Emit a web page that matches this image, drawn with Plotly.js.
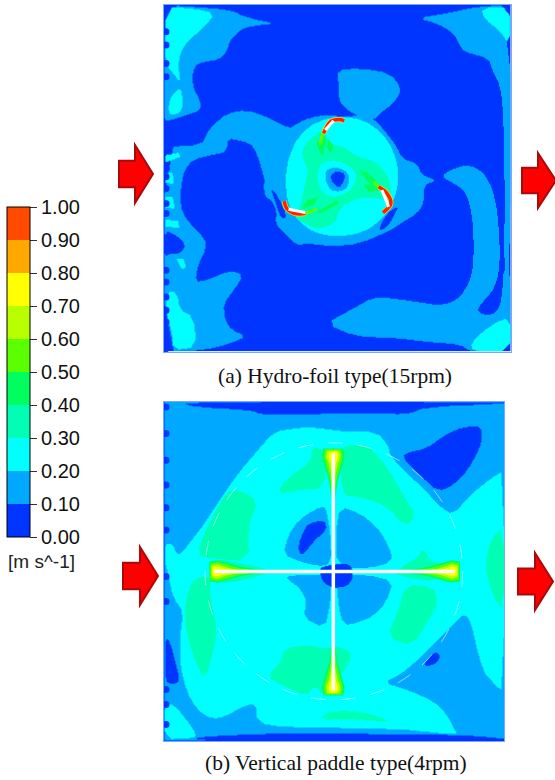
<!DOCTYPE html>
<html><head><meta charset="utf-8">
<script src="https://cdn.plot.ly/plotly-3.0.1.min.js"></script>
<style>html,body{margin:0;padding:0;background:#fff}</style></head>
<body><div id="chart" style="width:555px;height:780px"></div>
<script>
// Iso-band outlines, in panel units. Each entry: [band, [x,y, x,y, ...]]; band d = 0.1*d .. 0.1*d+0.1 m/s.
// Later entries lie on top of earlier ones; anything uncovered is band 0.
const outlinesA = [
[1,[12,15,165,25,225,35,240,45,290,60,345,70,275,78,240,90,210,120,200,155,175,180,130,185,100,200,97,260,120,300,122,330,80,345,25,363,12,360]],
[1,[770,55,860,40,950,20,1050,15,1050,810,1030,810,1033,600,1030,420,1028,340,1020,260,995,210,985,175,910,155,895,130,880,100,830,70]],
[1,[840,528,880,505,915,495,955,505,985,540,1005,600,1015,680,1018,760,1015,820,1000,865,985,885,950,925,960,940,985,945,1010,935,1024,895,1030,800,1050,800,1050,1055,930,1055,900,1032,800,1025,700,1012,590,1010,495,970,570,930,640,890,700,895,770,905,835,915,880,905,915,870,935,820,940,760,938,680,930,620,915,575,890,555]],
[1,[12,440,125,435,140,400,160,375,200,340,260,330,320,350,385,385,405,375,430,360,480,345,560,350,600,345,640,355,680,400,710,440,725,475,770,490,785,525,830,540,790,555,790,610,770,640,720,670,690,690,600,730,520,738,440,730,410,735,375,700,345,670,350,635,335,600,315,590,310,555,315,545,300,490,285,450,270,430,235,420,205,415,200,445,190,458,150,465,100,478,75,505,62,560,62,620,80,660,135,715,138,745,115,790,105,845,140,840,210,810,250,825,225,865,190,910,195,960,215,990,260,1008,210,1030,130,1050,12,1055]],
[1,[530,210,600,205,690,220,725,268,700,310,665,335,640,360,600,350,560,330,535,300,535,250]],
[0,[12,690,50,705,78,735,60,760,30,760,12,770]],
[0,[330,560,355,590,380,648,365,658,350,620]],
[2,[15,22,100,25,165,40,130,85,85,120,60,160,55,200,62,250,40,220,15,190]],
[2,[62,262,68,300,65,335,30,348,25,320,35,285]],
[2,[960,25,1050,20,1048,135,1015,90,975,60]],
[2,[15,466,55,458,62,470,15,487]],
[2,[15,520,38,518,42,550,15,548]],
[2,[15,590,38,590,45,625,15,622]],
[2,[15,658,55,663,58,682,15,680]],
[2,[50,775,70,775,78,802,65,807]],
[2,[20,875,50,875,60,930,100,950,110,1040,40,1050,35,990,20,950]],
[2,[930,1028,990,975,1050,948,1050,1055,940,1055]],
[2,[545,348,610,360,665,398,702,455,717,528,702,600,665,657,610,697,530,710,460,697,415,662,383,612,375,540,385,470,415,408,470,363]],
[3,[425,450,445,420,480,395,495,400,510,430,550,440,590,470,640,480,680,520,695,570,680,600,640,590,590,595,540,620,525,670,470,688,415,660,400,640,420,620,430,570,445,510,430,480]],
[2,[480,490,510,480,560,490,590,520,580,560,550,585,510,590,480,570,470,530]],
[1,[495,510,525,500,565,515,565,560,540,575,510,570,495,540]],
[0,[510,525,530,512,555,520,550,545,535,565,515,545]],
[4,[470,430,490,405,500,420,485,470]],
[4,[505,415,520,440,510,460,500,440]],
[4,[595,505,625,520,655,550,640,560,610,530]],
[4,[610,555,650,555,660,570,625,575]],
[4,[440,600,475,590,460,615,425,625]],
[4,[470,635,530,600,535,610,480,640]],
[0,[715,615,700,650,680,680,658,692,660,675,680,640]]
];
const outlinesB = [
[1,[12,10,1032,10,1032,1030,12,1030]],
[0,[60,10,1032,10,1032,15,800,25,740,48,640,42,400,48,300,48,280,35,100,25]],
[0,[100,1030,1032,1030,1032,1022,900,1012,700,1010,400,1006,120,1016]],
[0,[730,165,800,150,840,120,880,95,950,78,968,100,960,150,920,220,880,260,835,280,790,240,750,200,735,185]],
[0,[15,720,30,730,45,790,60,850,35,860,15,850]],
[2,[65,465,100,420,130,380,170,320,230,230,290,160,340,100,400,90,450,85,560,100,650,100,685,140,690,170,730,215,790,270,840,325,880,350,930,290,1000,235,1032,218,1032,885,1000,855,970,820,950,750,935,680,915,645,880,680,830,730,770,790,720,830,670,855,740,875,820,910,860,950,880,990,895,1012,700,992,380,990,290,975,290,915,240,930,200,955,155,965,110,935,80,880,60,800,60,720,70,640,40,600,25,530,15,490,15,435,40,440,50,470]],
[2,[12,920,40,920,75,960,110,1010,100,1022,12,1025]],
[1,[370,470,385,410,420,360,490,320,500,340,510,400,515,495,475,505,420,490]],
[1,[540,325,600,345,650,385,685,440,700,490,625,512,530,505,528,400]],
[1,[530,530,620,530,700,548,680,610,640,655,590,675,550,682,535,620]],
[1,[375,535,425,530,515,530,510,620,495,692,430,660,440,610,420,570,390,550]],
[0,[475,510,510,500,560,497,575,505,580,540,560,565,520,570,490,555]],
[0,[415,440,430,400,445,375,495,365,500,395,460,430,430,470,418,465]],
[0,[790,800,825,760,842,775,830,795,805,805]],
[3,[545,145,580,140,620,140,660,180,690,220,735,300,770,350,735,385,680,325,630,305,590,295,545,290]],
[3,[455,145,495,155,495,270,420,275,350,288,380,240,455,190]],
[3,[200,280,245,275,295,310,265,380,268,490,150,480,110,470,135,400,165,340]],
[3,[95,545,150,530,150,590,170,690,165,740,135,850,105,790,75,690,75,620]],
[3,[735,560,820,565,835,615,815,650,760,745,680,718,715,640]],
[3,[372,752,440,740,495,752,540,745,580,770,545,830,490,895,465,860,440,895,370,865,320,835,365,790]],
[3,[1032,385,990,425,975,500,995,590,1032,640]],
[3,[465,965,530,935,640,950,700,975,600,965]],
[3,[750,490,770,480,790,450,810,490,850,495,880,520,820,550,750,540,700,525]],
[3,[150,480,270,500,340,520,290,535,210,555,150,550]]
];
const bandColors = ["#0035ff","#00a8ff","#00ffff","#00ffb4","#00ff5e","#5cff00","#b8ff00","#ffff00","#ffa800","#ff4a00"];
const tickValues = [0,0.1,0.2,0.3,0.4,0.5,0.6,0.7,0.8,0.9,1];
const tickLabels = ["0.00","0.10","0.20","0.30","0.40","0.50","0.60","0.70","0.80","0.90","1.00"];
const unitLabel = "[m s^-1]";
const captionA = "(a) Hydro-foil type(15rpm)";
const captionB = "(b) Vertical paddle type(4rpm)";

// Hydro-foil blades
const bladeTailX = [[480,488,500],[640,655,670],[435,470]];
const bladeTailY = [[435,400,385],[545,560,572],[640,627]];
const bladeRedX = [[490,510,535,552],[655,680,692,682,668],[372,380,405,435]];
const bladeRedY = [[400,365,358,362],[560,580,610,625,637],[603,625,640,640]];
const bladeWhiteX = [[495,520],[665,685],[385,435]];
const bladeWhiteY = [[390,362],[570,620],[627,637]];
// Paddle cross and tip glow
const paddleCentre = [520,520];
const paddleTipDist = [355,358,357,365]; // top, bottom, left, right
const glowAlong = [[-15,10,40,80,150],[-12,10,40,75,130],[-9,10,30,60,100],[-6,10,30,75]];
const glowHalf = [[30,34,26,14,3],[24,28,20,10,2],[18,22,14,7,1],[12,14,8,1]];
const glowBands = [4,5,6,7];
const wallAY = [95,135,190,230,505,530,565,610,640,810,845,890,930,965,1005,1045];
const wallBY = [25,105,185,260,328,395,535,610,875,920,980];

const W=555,H=780,STEP=3;
const chaikin=p=>{const o=[];for(let i=0;i<p.length;i++){const a=p[i],b=p[(i+1)%p.length];
  o.push([.75*a[0]+.25*b[0],.75*a[1]+.25*b[1]],[.25*a[0]+.75*b[0],.25*a[1]+.75*b[1]]);}return o;};
function bandsToZ(outlines,xs,ys){
  const z=ys.map(()=>xs.map(()=>0.05));
  outlines.forEach(([band,flat])=>{
    let p=[];for(let i=0;i<flat.length;i+=2)p.push([flat[i],flat[i+1]]);
    if(p.length!==4)p=chaikin(p);
    const minY=Math.min(...p.map(q=>q[1])),maxY=Math.max(...p.map(q=>q[1]));
    ys.forEach((y,j)=>{
      if(y<minY||y>maxY)return;
      const cuts=[];
      for(let i=0;i<p.length;i++){const a=p[i],b=p[(i+1)%p.length];
        if((a[1]>y)!==(b[1]>y))cuts.push(a[0]+(y-a[1])/(b[1]-a[1])*(b[0]-a[0]));}
      cuts.sort((m,n)=>m-n);
      xs.forEach((x,k)=>{let n=0;for(const c of cuts)if(c<x)n++;if(n%2)z[j][k]=band/10+0.05;});
    });
  });
  return z;
}
const range=(a,b)=>{const r=[];for(let v=a;v<=b;v+=STEP)r.push(v);return r;};
const stepScale=[];bandColors.forEach((c,i)=>{stepScale.push([i/10,c]);stepScale.push([(i+1)/10,c]);});
const contour=(o,x0,x1,y0,y1,xa,ya,scale)=>{const xs=range(x0,x1),ys=range(y0,y1);
 return {type:'contour',x:xs,y:ys,z:bandsToZ(o,xs,ys),xaxis:xa,yaxis:ya,zmin:0,zmax:1,autocontour:false,
  contours:{start:0,end:1,size:0.1,coloring:'fill',showlines:false},line:{width:0,smoothing:1},
  colorscale:stepScale,showscale:scale,hoverinfo:'skip',
  colorbar:{x:7/W,xref:'paper',xanchor:'left',xpad:0,ypad:0,y:1-372/H,yref:'paper',yanchor:'middle',lenmode:'pixels',len:330,
    thicknessmode:'pixels',thickness:23,outlinecolor:'#000',outlinewidth:1,tickmode:'array',tickvals:tickValues,ticktext:tickLabels,
    ticks:'outside',ticklen:7,tickcolor:'#333',tickfont:{family:'Liberation Sans, Arial',size:20,color:'#111'}}};};
const line=(x,y,c,w,xa,ya)=>({type:'scatter',mode:'lines',x,y,xaxis:xa,yaxis:ya,line:{color:c,width:w,shape:'spline'},hoverinfo:'skip',showlegend:false});
const traces=[contour(outlinesA,12,1050,15,1055,'x','y',true),contour(outlinesB,12,1032,10,1030,'x2','y2',false)];
bladeTailX.forEach((x,i)=>traces.push(line(x,bladeTailY[i],'#5cff00',3,'x','y')));
bladeRedX.forEach((x,i)=>traces.push(line(x,bladeRedY[i],'#ffe000',5,'x','y')));
bladeRedX.forEach((x,i)=>traces.push(line(x,bladeRedY[i],'#ff2000',3.5,'x','y')));
bladeWhiteX.forEach((x,i)=>traces.push(line(x,bladeWhiteY[i],'#ffffff',3,'x','y')));
[[0,-1],[0,1],[-1,0],[1,0]].forEach((d,a)=>{
  const tx=paddleCentre[0]+d[0]*paddleTipDist[a], ty=paddleCentre[1]+d[1]*paddleTipDist[a];
  glowAlong.forEach((al,b)=>{
    const xs=[],ys=[];
    al.forEach((s,i)=>{xs.push(tx-d[0]*s-d[1]*glowHalf[b][i]);ys.push(ty-d[1]*s+d[0]*glowHalf[b][i]);});
    for(let i=al.length-1;i>=0;i--){xs.push(tx-d[0]*al[i]+d[1]*glowHalf[b][i]);ys.push(ty-d[1]*al[i]-d[0]*glowHalf[b][i]);}
    traces.push({type:'scatter',mode:'lines',x:xs,y:ys,fill:'toself',fillcolor:bandColors[glowBands[b]],line:{width:0},xaxis:'x2',yaxis:'y2',hoverinfo:'skip',showlegend:false});
  });
});
const c=paddleCentre,t=paddleTipDist;
traces.push(line([c[0],c[0]],[c[1]-t[0],c[1]+t[1]],'#fff',3.5,'x2','y2'));
traces.push(line([c[0]-t[2],c[0]+t[3]],[c[1],c[1]],'#fff',3.5,'x2','y2'));
const wall=(ys,xa,ya)=>({type:'scatter',mode:'markers',x:ys.map(()=>18),y:ys,xaxis:xa,yaxis:ya,marker:{color:bandColors[0],size:7,line:{width:0}},hoverinfo:'skip',showlegend:false});
traces.push(wall(wallAY,'x','y'),wall(wallBY,'x2','y2'));

const ax=(l,r,anchor,range)=>({domain:[l,r],range,anchor,showgrid:false,zeroline:false,showticklabels:false,ticks:'',showline:true,mirror:true,linecolor:'#7aa6ff',linewidth:1});
const arrow=(x0,xm,x1,yt,yb)=>{
  const ym=(yt+yb)/2,h=(yb-yt)*0.23;
  const p=[[x0,ym-h],[xm,ym-h],[xm,yt],[x1,ym],[xm,yb],[xm,ym+h],[x0,ym+h]];
  return {type:'shape',xref:'paper',yref:'paper',path:'M'+p.map(q=>(q[0]/W)+','+(1-q[1]/H)).join('L')+'Z',fillcolor:'#ff0000',line:{color:'#a80a0a',width:2}};
};
const layout={width:W,height:H,margin:{l:0,r:0,t:0,b:0,autoexpand:false},paper_bgcolor:'#fff',plot_bgcolor:'#fff',showlegend:false,
  xaxis:ax(164/W,510.5/W,'y',[12,1050]),yaxis:ax(1-352/H,1-5/H,'x',[1055,15]),
  xaxis2:ax(164/W,504/W,'y2',[12,1032]),yaxis2:ax(1-741/H,1-402/H,'x2',[1030,10]),
  shapes:[arrow(119,135,153,145,203),arrow(522,538,556,153,208),arrow(123,140,158,547,605),arrow(518,535,553,553,610),
    {type:'circle',xref:'x2',yref:'y2',x0:135,x1:908,y0:133,y1:906,line:{color:'rgba(255,255,255,0.55)',width:1,dash:'longdash'}}],
  annotations:[
   {text:captionA,xref:'paper',yref:'paper',x:335/W,y:1-376/H,xanchor:'center',yanchor:'middle',showarrow:false,font:{family:'Liberation Serif, Times New Roman',size:21.5,color:'#111'}},
   {text:captionB,xref:'paper',yref:'paper',x:335.5/W,y:1-763/H,xanchor:'center',yanchor:'middle',showarrow:false,font:{family:'Liberation Serif, Times New Roman',size:21.5,color:'#111'}},
   {text:unitLabel,xref:'paper',yref:'paper',x:6/W,y:1-561/H,xanchor:'left',yanchor:'middle',showarrow:false,font:{family:'Liberation Sans, Arial',size:19,color:'#222'}}
  ]};
Plotly.newPlot('chart',traces,layout,{displayModeBar:false,staticPlot:true});
</script></body></html>
